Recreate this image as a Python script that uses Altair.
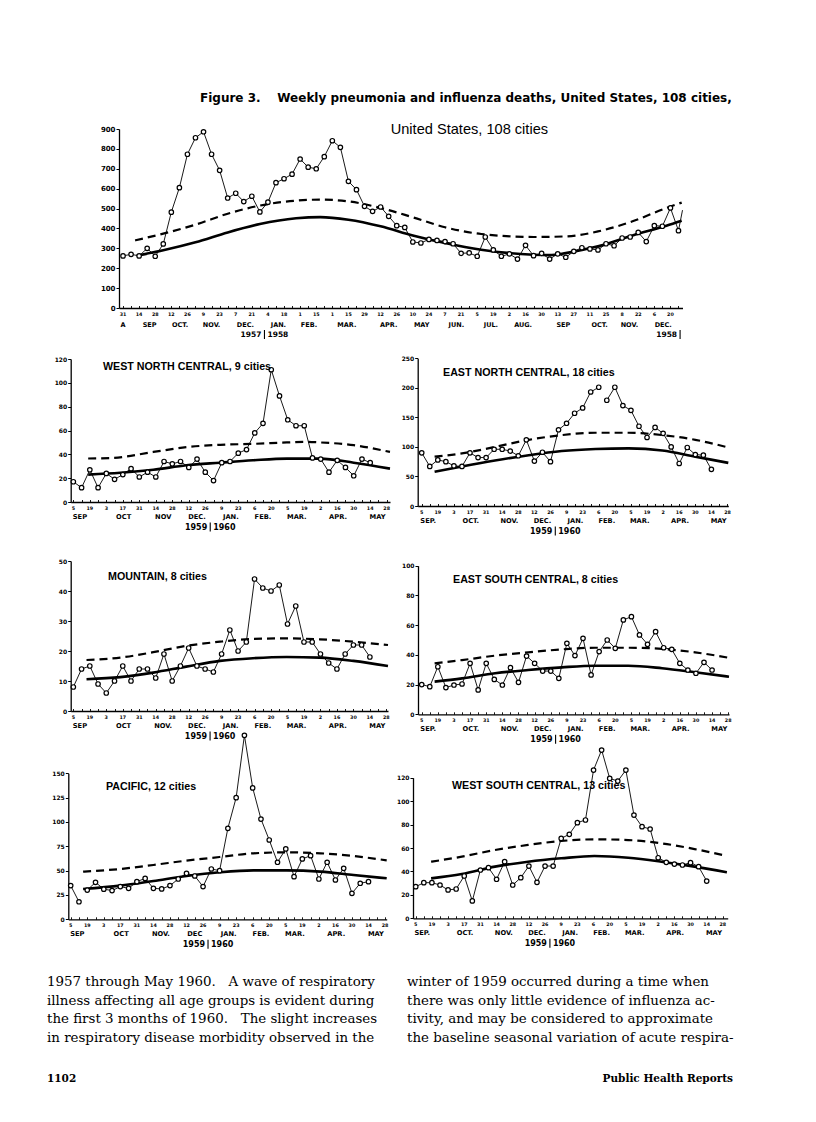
import altair as alt
import pandas as pd

SANS = "DejaVu Sans"
NARROW = "Liberation Sans"
SERIF = "DejaVu Serif"

# ---------------- United States, 108 cities (weeks counted from 31 Aug 1957) ----------------
us_week = list(range(70))
us_deaths = [262, 270, 262, 300, 260, 322, 482, 605, 773, 856,
             886, 773, 692, 553, 577, 535, 562, 483, 532, 630,
             650, 673, 749, 708, 700, 761, 841, 808, 637, 595,
             511, 486, 508, 461, 414, 405, 332, 327, 345, 340,
             334, 323, 275, 277, 260, 357, 292, 260, 272, 246,
             315, 263, 275, 246, 272, 255, 285, 303, 297, 292,
             323, 313, 352, 357, 380, 334, 414, 411, 503, 389]
us_tail_week = [69, 69.5]
us_tail_deaths = [389, 492]
us_expected_week = [1.7, 5, 9, 13, 17, 21.5, 24.5, 28, 32, 36, 40, 44.5, 51, 53, 55, 59, 63.3, 67.5, 69.4]
us_expected = [263, 290, 330, 380, 422, 451, 457, 444, 411, 365, 327, 293, 268, 266, 276, 310, 365, 414, 439]
us_threshold_week = [1.5, 5, 9, 13, 17, 21.5, 24.5, 28, 32, 36, 40, 44.5, 51, 55, 59, 63.3, 67.5, 69.4]
us_threshold = [340, 374, 419, 474, 515, 540, 545, 536, 503, 456, 406, 372, 357, 360, 385, 436, 503, 530]
us_day_labels = ["31", "14", "28", "12", "26", "9", "23", "7", "21", "4", "18", "1", "15", "1", "15",
                 "29", "12", "26", "10", "24", "7", "21", "5", "19", "2", "16", "30", "13", "27",
                 "11", "25", "8", "22", "6", "20"]
us_months = ["A", "SEP", "OCT.", "NOV.", "DEC.", "JAN.", "FEB.", "MAR.", "APR.", "MAY", "JUN.",
             "JUL.", "AUG.", "SEP", "OCT.", "NOV.", "DEC."]
us_month_week = [0, 3.3, 7.1, 11, 15.2, 19.3, 23.1, 27.8, 33, 37.1, 41.4, 45.7, 49.7, 54.7, 59.2, 62.9, 67.1]

# ---------------- Regions (weeks counted from 5 Sep 1959) ----------------
region_week = list(range(37))
region_day_labels = ["5", "19", "3", "17", "31", "14", "28", "12", "26", "9", "23", "6", "20",
                     "5", "19", "2", "16", "30", "14", "28"]
region_month_week = [0.8, 6.1, 10.9, 15.0, 19.1, 23.0, 27.1, 32.1, 36.9]

wnc_deaths = [17, 12, 27, 12, 24, 19, 23, 28, 21, 25, 21, 34, 32, 34, 29, 36, 25, 18, 33, 34,
              41, 44, 58, 66, 111, 89, 69, 64, 64, 37, 36, 25, 35, 29, 22, 36, 33]
wnc_expected_week = [1.8, 5.7, 9.7, 13.7, 17.8, 21.8, 25.9, 29.9, 34, 38.4]
wnc_expected = [23, 24.5, 27, 30.8, 33, 35, 36.4, 36.4, 33, 28]
wnc_threshold_week = [1.8, 4.5, 9.7, 13.7, 17.8, 21.8, 25.9, 28, 29.9, 34, 38.4]
wnc_threshold = [36.5, 36.8, 42, 46, 48, 48.8, 50, 50.5, 50, 47.7, 42]
wnc_months = ["SEP", "OCT", "NOV", "DEC.", "JAN.", "FEB.", "MAR.", "APR.", "MAY"]

enc_deaths = [90, 67, 78, 75, 68, 67, 90, 82, 82, 96, 96, 93, 85, 112, 76, 91, 75, 129, 140, 157,
              166, 193, 201, 179, 201, 170, 162, 135, 116, 133, 123, 100, 72, 99, 87, 86, 62]
enc_expected_week = [1.6, 5, 9.1, 13.3, 17.4, 21.6, 25.7, 29.9, 34, 38.1]
enc_expected = [58, 67, 77, 86, 93, 96.5, 97.6, 94, 83.5, 73]
enc_threshold_week = [1.6, 5, 9.1, 13.3, 17.4, 21.6, 25.7, 29.9, 34, 38.1]
enc_threshold = [83.5, 89, 100, 112, 120, 124, 124, 120, 112, 99]
enc_months = ["SEP.", "OCT.", "NOV.", "DEC.", "JAN.", "FEB.", "MAR.", "APR.", "MAY"]

mtn_deaths = [8, 14, 15, 9, 6, 10, 15, 10, 14, 14, 11, 19, 10, 15, 21, 15, 14, 13, 19, 27,
              20, 23, 44, 41, 40, 42, 29, 35, 23, 23, 19, 16, 14, 19, 22, 22, 18]
mtn_expected_week = [1.6, 5.7, 9.7, 13.7, 17.8, 21.8, 25.9, 29.9, 34, 38.2]
mtn_expected = [10.6, 11.3, 12.8, 14.8, 16.7, 17.6, 18, 17.8, 16.7, 15]
mtn_threshold_week = [1.6, 5.7, 9.7, 13.7, 17.8, 21.8, 25.9, 29.9, 34, 38.2]
mtn_threshold = [17, 17.8, 19.6, 21.7, 23.1, 24, 24.2, 23.9, 23.1, 22]
mtn_months = ["SEP", "OCT", "NOV.", "DEC.", "JAN.", "FEB.", "MAR.", "APR.", "MAY"]

esc_deaths = [20, 18.6, 32, 18, 19.7, 20.4, 34.3, 16.4, 34.3, 23.5, 19.7, 31.4, 21.5, 39.2, 34.3,
              29.1, 29.1, 24.2, 47.8, 39.5, 51.1, 26.5, 42.2, 50, 44.4, 63.5, 65.7, 53.4, 47.1,
              55.6, 44.8, 43.7, 34.3, 29.8, 27.6, 35, 29.8]
esc_expected_week = [1.6, 5, 9.1, 13.2, 17.4, 21.5, 25.6, 29.8, 33.9, 38.1]
esc_expected = [22, 24.2, 27.6, 29.8, 31.6, 32.7, 32.7, 31, 28.3, 25.3]
esc_threshold_week = [1.6, 5, 9.1, 13.2, 17.4, 21.5, 25.6, 29.8, 33.9, 38.1]
esc_threshold = [34.3, 36.5, 39.5, 41.7, 43.7, 44.8, 44.8, 44, 41.7, 38]
esc_months = ["SEP.", "OCT.", "NOV.", "DEC.", "JAN.", "FEB.", "MAR.", "APR.", "MAY"]

pac_deaths = [34.6, 18, 30, 38, 31, 29.5, 33.6, 31.8, 38.7, 42, 31.8, 31.2, 34.6, 41.4, 47.3, 44.5,
              33.6, 51.7, 50, 93.5, 125, 189, 135, 103, 81.5, 58.6, 72.3, 43.8, 62, 65.4, 41.4,
              58.6, 40.4, 52.4, 26.7, 37, 38.7]
pac_expected_week = [1.5, 6, 10, 14, 18, 22.1, 26.1, 30.2, 34.2, 38.2]
pac_expected = [31.2, 34.6, 39.4, 44.5, 48.3, 50.3, 50.3, 49, 45.5, 42.1]
pac_threshold_week = [1.5, 6, 10, 14, 18, 22.1, 26.1, 30.2, 34.2, 38.2]
pac_threshold = [49, 51.7, 55.8, 60.3, 64, 67.8, 68.8, 67.8, 65, 60.6]
pac_months = ["SEP", "OCT", "NOV.", "DEC", "JAN.", "FEB.", "MAR.", "APR.", "MAY"]

wsc_deaths = [27, 30.4, 30.4, 28.4, 24.2, 25, 36.1, 14.8, 41.2, 43.2, 33.3, 48.3, 28.4, 34.7, 44.6,
              30.7, 44.6, 44.6, 68.2, 71.7, 81.6, 83.9, 126.5, 143.6, 119.4, 117.1, 126.5, 88.1,
              78.2, 76.2, 51.7, 47.8, 46.3, 45.5, 47.5, 44.1, 31.8]
wsc_expected_week = [1.9, 5.7, 9.8, 13.9, 18, 22.1, 26.3, 30.4, 34.5, 38.5]
wsc_expected = [34.1, 37.8, 44.1, 48.3, 51.2, 53.2, 51.7, 48.3, 44.1, 39.2]
wsc_threshold_week = [1.9, 5.7, 9.8, 13.9, 18, 22.1, 26.3, 30.4, 34.5, 38.5]
wsc_threshold = [48.3, 52.6, 58.3, 62.6, 66, 67.4, 66.8, 64, 59.1, 53.2]
wsc_months = ["SEP.", "OCT.", "NOV.", "DEC.", "JAN.", "FEB.", "MAR.", "APR.", "MAY"]

page_title = "Figure 3.\u00a0\u00a0\u00a0 Weekly pneumonia and influenza deaths, United States, 108 cities,"
us_title = "United States, 108 cities"
body_left = ["1957 through May 1960.\u00a0\u00a0 A wave of respiratory",
             "illness affecting all age groups is evident during",
             "the first 3 months of 1960.\u00a0\u00a0 The slight increases",
             "in respiratory disease morbidity observed in the"]
body_right = ["winter of 1959 occurred during a time when",
              "there was only little evidence of influenza ac-",
              "tivity, and may be considered to approximate",
              "the baseline seasonal variation of acute respira-"]
footer_left = "1102"
footer_right = "Public Health Reports"


def text_layer(txt, x, y, size, font=SANS, weight="normal", align="left", baseline="middle"):
    df = pd.DataFrame({"t": [txt]})
    return alt.Chart(df).mark_text(
        align=align, baseline=baseline, font=font, fontSize=size, fontWeight=weight, color="black"
    ).encode(x=alt.value(x), y=alt.value(y), text="t:N")


def build_panel(p):
    ax_y = p["yr"][0]
    ax_x = p["xr"][0]
    xs = alt.Scale(domain=p["xdom"], range=p["xr"], nice=False, zero=False)
    ys = alt.Scale(domain=p["ydom"], range=p["yr"], nice=False, zero=False)
    X = alt.X("w:Q", scale=xs, axis=alt.Axis(
        orient="top", offset=-ax_y, labels=False, values=list(range(p["nweeks"] + 1)),
        tickSize=2.5, tickWidth=0.9, domainWidth=1.3, domainColor="black", tickColor="black",
        grid=False, title=None))
    Y = alt.Y("v:Q", scale=ys, axis=alt.Axis(
        orient="left", offset=-ax_x, values=p["yticks"], tickSize=3, tickWidth=1,
        domainWidth=1.3, domainColor="black", tickColor="black", grid=False, title=None,
        labelFont=SANS, labelFontWeight="bold", labelFontSize=p["ylab"], labelColor="black",
        labelPadding=1))
    seg, s = [], 0
    for i in range(len(p["deaths"])):
        seg.append(s)
        if i in p["gaps"]:
            s += 1
    df_obs = pd.DataFrame({"w": p["week"], "v": p["deaths"], "seg": seg})
    df_exp = pd.DataFrame({"w": p["exp_w"], "v": p["exp_v"]})
    df_thr = pd.DataFrame({"w": p["thr_w"], "v": p["thr_v"]})
    layers = [
        alt.Chart(df_thr).mark_line(color="black", strokeWidth=2.2, strokeDash=[8, 5],
                                    interpolate="monotone").encode(x=X, y=Y),
        alt.Chart(df_exp).mark_line(color="black", strokeWidth=2.6,
                                    interpolate="monotone").encode(x=X, y=Y),
        alt.Chart(df_obs).mark_line(color="black", strokeWidth=0.9).encode(x=X, y=Y, detail="seg:N"),
    ]
    if p.get("tail_w"):
        df_tail = pd.DataFrame({"w": p["tail_w"], "v": p["tail_v"]})
        layers.append(alt.Chart(df_tail).mark_line(color="black", strokeWidth=0.9).encode(x=X, y=Y))
    layers.append(
        alt.Chart(df_obs).mark_point(shape="circle", filled=True, fill="white", stroke="black",
                                     strokeWidth=1.2, size=20, opacity=1).encode(x=X, y=Y))
    df_days = pd.DataFrame({"w": list(range(0, p["nweeks"] + 1, 2))[:len(p["days"])], "lab": p["days"]})
    layers.append(alt.Chart(df_days).mark_text(font=SANS, fontWeight="bold", fontSize=p["day_size"],
                                               baseline="middle", color="black")
                  .encode(x=X, y=alt.value(ax_y + p["day_dy"]), text="lab:N"))
    df_mon = pd.DataFrame({"w": p["month_w"], "lab": p["months"]})
    layers.append(alt.Chart(df_mon).mark_text(font=SANS, fontWeight="bold", fontSize=p["month_size"],
                                              baseline="middle", color="black")
                  .encode(x=X, y=alt.value(ax_y + p["month_dy"]), text="lab:N"))
    for sep_w, left_lab, right_lab in p["years"]:
        df_sep = pd.DataFrame({"w": [sep_w], "a": [left_lab], "b": [right_lab]})
        layers.append(alt.Chart(df_sep).mark_rule(color="black", strokeWidth=1.1)
                      .encode(x=X, y=alt.value(ax_y + p["year_dy"] - 5), y2=alt.value(ax_y + p["year_dy"] + 4)))
        if left_lab:
            layers.append(alt.Chart(df_sep).mark_text(font=SANS, fontWeight="bold", fontSize=p["year_size"],
                                                      align="right", dx=-3, baseline="middle", color="black")
                          .encode(x=X, y=alt.value(ax_y + p["year_dy"]), text="a:N"))
        if right_lab:
            layers.append(alt.Chart(df_sep).mark_text(font=SANS, fontWeight="bold", fontSize=p["year_size"],
                                                      align="left", dx=3, baseline="middle", color="black")
                          .encode(x=X, y=alt.value(ax_y + p["year_dy"]), text="b:N"))
    if p.get("title"):
        layers.append(text_layer(p["title"], p["title_xy"][0], p["title_xy"][1], 10.7,
                                 font=NARROW, weight="bold"))
    return alt.layer(*layers)


region_common = dict(week=region_week, nweeks=38, days=region_day_labels, month_w=region_month_week,
                     ylab=6, day_size=4.8, month_size=6.7, year_size=8,
                     day_dy=6.5, month_dy=15, year_dy=25.5, years=[(16.6, "1959", "1960")])

panels = [
    dict(deaths=us_deaths, week=us_week, gaps=[], exp_w=us_expected_week, exp_v=us_expected,
         thr_w=us_threshold_week, thr_v=us_threshold, tail_w=us_tail_week, tail_v=us_tail_deaths,
         xdom=[-0.5, 69.5], xr=[111, 674.5], ydom=[0, 900], yr=[300, 121],
         yticks=list(range(0, 901, 100)), nweeks=69, days=us_day_labels, months=us_months,
         month_w=us_month_week, ylab=7, day_size=4.8, month_size=6.5, year_size=7.5,
         day_dy=7, month_dy=17, year_dy=27, years=[(17.57, "1957", "1958"), (69.2, "1958", "")]),
    dict(region_common, deaths=wnc_deaths, gaps=[], exp_w=wnc_expected_week, exp_v=wnc_expected,
         thr_w=wnc_threshold_week, thr_v=wnc_threshold, xdom=[-0.32, 38.4], xr=[62.7, 382],
         ydom=[0, 120], yr=[494, 351], yticks=list(range(0, 121, 20)), months=wnc_months,
         title="WEST NORTH CENTRAL, 9 cities", title_xy=(95, 358.5)),
    dict(region_common, deaths=enc_deaths, gaps=[22], exp_w=enc_expected_week, exp_v=enc_expected,
         thr_w=enc_threshold_week, thr_v=enc_threshold, xdom=[-0.5, 38.1], xr=[409.7, 720.3],
         ydom=[0, 250], yr=[498, 350.3], yticks=list(range(0, 251, 50)), months=enc_months,
         title="EAST NORTH CENTRAL, 18 cities", title_xy=(435, 364.5)),
    dict(region_common, deaths=mtn_deaths, gaps=[], exp_w=mtn_expected_week, exp_v=mtn_expected,
         thr_w=mtn_threshold_week, thr_v=mtn_threshold, xdom=[-0.32, 38.2], xr=[62.7, 380],
         ydom=[0, 50], yr=[703, 553], yticks=list(range(0, 51, 10)), months=mtn_months,
         title="MOUNTAIN, 8 cities", title_xy=(100, 568.5)),
    dict(region_common, deaths=esc_deaths, gaps=[], exp_w=esc_expected_week, exp_v=esc_expected,
         thr_w=esc_threshold_week, thr_v=esc_threshold, xdom=[-0.46, 38.1], xr=[410, 721],
         ydom=[0, 100], yr=[706.3, 557.7], yticks=list(range(0, 101, 20)), months=esc_months,
         title="EAST SOUTH CENTRAL, 8 cities", title_xy=(445, 571.5)),
    dict(region_common, deaths=pac_deaths, gaps=[1], exp_w=pac_expected_week, exp_v=pac_expected,
         thr_w=pac_threshold_week, thr_v=pac_threshold, xdom=[-0.29, 38.2], xr=[60.3, 378.7],
         ydom=[0, 150], yr=[911.3, 765.3], yticks=list(range(0, 151, 25)), months=pac_months,
         title="PACIFIC, 12 cities", title_xy=(98, 779)),
    dict(region_common, deaths=wsc_deaths, gaps=[], exp_w=wsc_expected_week, exp_v=wsc_expected,
         thr_w=wsc_threshold_week, thr_v=wsc_threshold, xdom=[-0.34, 38.6], xr=[405, 719.7],
         ydom=[0, 120], yr=[910.3, 769.7], yticks=list(range(0, 121, 20)), months=wsc_months,
         title="WEST SOUTH CENTRAL, 13 cities", title_xy=(444, 778)),
]

all_layers = [build_panel(p) for p in panels]

all_layers.append(text_layer(page_title, 192, 89.5, 12, font=SANS, weight="bold"))
all_layers.append(text_layer(us_title, 382.7, 122, 14.6, font=NARROW))

body_y0, body_dy = 974, 18.6
for i, line in enumerate(body_left):
    all_layers.append(text_layer(line, 39, body_y0 + i * body_dy, 13.4, font=SERIF))
for i, line in enumerate(body_right):
    all_layers.append(text_layer(line, 399, body_y0 + i * body_dy, 13.4, font=SERIF))
all_layers.append(text_layer(footer_left, 39, 1071, 10.5, font=SERIF, weight="bold"))
all_layers.append(text_layer(footer_right, 725, 1071, 10.5, font=SERIF, weight="bold", align="right"))

chart = alt.layer(*all_layers).resolve_scale(x="independent", y="independent").properties(
    width=800, height=1106, padding=0, autosize=alt.AutoSizeParams(type="none"),
    background="white"
).configure_view(stroke=None)

chart.save("out.html", embed_options={"renderer": "svg", "actions": False})
